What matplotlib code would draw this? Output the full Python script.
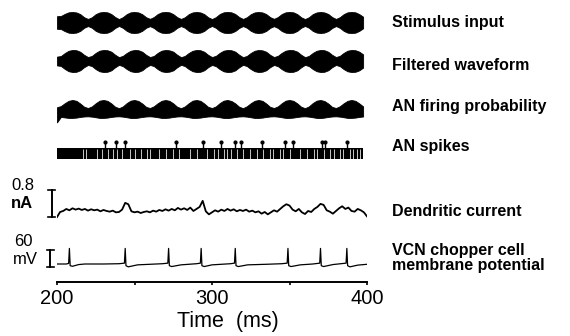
import numpy as np
import matplotlib
matplotlib.use("Agg")
import matplotlib.pyplot as plt

plt.rcParams['font.family'] = ['Liberation Sans', 'DejaVu Sans']

# ---------------- data ----------------
# envelope samples every 2.5 ms from 200 ms
stim_env = [
    0.60, 0.62, 0.82, 0.97, 1.00, 0.96, 0.80, 0.50,
    0.34, 0.50, 0.80, 0.96, 1.00, 0.97, 0.81, 0.52,
    0.33, 0.51, 0.80, 0.97, 1.00, 0.96, 0.79, 0.50,
    0.35, 0.52, 0.81, 0.97, 1.00, 0.97, 0.80, 0.51,
    0.34, 0.50, 0.80, 0.96, 1.00, 0.96, 0.80, 0.50,
    0.33, 0.51, 0.81, 0.97, 1.00, 0.97, 0.81, 0.52,
    0.34, 0.50, 0.79, 0.96, 1.00, 0.96, 0.80, 0.51,
    0.35, 0.52, 0.81, 0.97, 1.00, 0.97, 0.80, 0.50,
    0.33, 0.50, 0.80, 0.96, 1.00, 0.96, 0.81, 0.52,
    0.34, 0.51, 0.80, 0.97, 1.00, 0.97, 0.80, 0.55]

filt_env = [
    0.40, 0.45, 0.72, 0.93, 1.00, 0.98, 0.84, 0.56,
    0.36, 0.46, 0.74, 0.94, 1.00, 0.98, 0.85, 0.57,
    0.35, 0.47, 0.73, 0.93, 1.00, 0.98, 0.84, 0.56,
    0.36, 0.46, 0.74, 0.94, 1.00, 0.97, 0.85, 0.57,
    0.35, 0.46, 0.73, 0.93, 1.00, 0.98, 0.84, 0.56,
    0.36, 0.47, 0.74, 0.94, 1.00, 0.98, 0.85, 0.57,
    0.35, 0.46, 0.73, 0.93, 1.00, 0.97, 0.84, 0.56,
    0.36, 0.47, 0.74, 0.94, 1.00, 0.98, 0.85, 0.57,
    0.35, 0.46, 0.73, 0.93, 1.00, 0.98, 0.84, 0.56,
    0.36, 0.47, 0.74, 0.94, 1.00, 0.98, 0.85, 0.60]

an_prob_top = [
    0.55, 0.62, 0.80, 0.95, 1.00, 0.95, 0.78, 0.58,
    0.50, 0.60, 0.80, 0.96, 1.00, 0.95, 0.79, 0.58,
    0.49, 0.60, 0.81, 0.96, 1.00, 0.94, 0.78, 0.57,
    0.50, 0.61, 0.80, 0.95, 1.00, 0.95, 0.79, 0.58,
    0.49, 0.60, 0.80, 0.96, 1.00, 0.95, 0.78, 0.57,
    0.50, 0.60, 0.81, 0.96, 1.00, 0.94, 0.79, 0.58,
    0.49, 0.61, 0.80, 0.95, 1.00, 0.95, 0.78, 0.57,
    0.50, 0.60, 0.80, 0.96, 1.00, 0.95, 0.79, 0.58,
    0.49, 0.60, 0.81, 0.96, 1.00, 0.94, 0.78, 0.57,
    0.50, 0.61, 0.80, 0.95, 1.00, 0.95, 0.79, 0.60]

an_prob_bottom = [
    -0.40, -0.06, -0.09, -0.12, -0.12, -0.10, -0.06, -0.03,
    -0.02, -0.04, -0.08, -0.12, -0.12, -0.10, -0.06, -0.03,
    -0.02, -0.04, -0.08, -0.12, -0.13, -0.10, -0.06, -0.03,
    -0.02, -0.04, -0.08, -0.12, -0.12, -0.10, -0.06, -0.03,
    -0.02, -0.04, -0.08, -0.12, -0.12, -0.10, -0.06, -0.03,
    -0.02, -0.04, -0.08, -0.12, -0.13, -0.10, -0.06, -0.03,
    -0.02, -0.04, -0.08, -0.12, -0.12, -0.10, -0.06, -0.03,
    -0.02, -0.04, -0.08, -0.12, -0.12, -0.10, -0.06, -0.03,
    -0.02, -0.04, -0.08, -0.12, -0.13, -0.10, -0.06, -0.03,
    -0.02, -0.04, -0.08, -0.12, -0.12, -0.10, -0.06, -0.03]

# AN spikes: gaps in the dense raster band, and the tall spikes (ms)
an_gap_times = [217, 219, 226, 229, 233, 236, 238.5, 242, 247, 250, 254.5,
                258, 260, 265.5, 270, 275, 278.5, 286, 290, 296.5, 301,
                304, 307.5, 309.5, 312.5, 316, 320, 324.5, 329, 333, 337.5,
                339.5, 344, 346, 350.5, 357, 361, 365.5, 367.5, 372, 376,
                378.5, 382.5, 384.5, 389, 391, 393.5, 395.5]
an_spike_times = [231, 238, 244, 277, 294, 306, 315, 319, 332, 347, 352,
                  371, 373, 387]

# dendritic current (nA), every 2 ms from 200 to 400
dend_na = [
    -0.12, 0.03, 0.06, 0.12, 0.08, 0.14, 0.10, 0.13, 0.09, 0.12,
    0.07, 0.11, 0.08, 0.10, 0.05, 0.09, 0.06, 0.04, 0.07, 0.02,
    0.03, 0.10, 0.30, 0.26, 0.05, 0.02, 0.04, 0.00, 0.03, 0.05,
    0.02, 0.07, 0.04, 0.09, 0.06, 0.11, 0.07, 0.12, 0.08, 0.15,
    0.10, 0.14, 0.09, 0.16, 0.06, 0.12, 0.18, 0.36, 0.05, -0.04,
    0.02, 0.08, 0.04, 0.10, 0.06, 0.12, 0.07, 0.11, 0.05, 0.09,
    0.06, 0.10, 0.04, 0.07, 0.02, 0.05, -0.02, 0.03, -0.04, 0.02,
    0.08, 0.04, 0.12, 0.20, 0.26, 0.22, 0.10, 0.05, 0.12, 0.02,
    -0.03, 0.06, 0.03, 0.12, 0.18, 0.27, 0.24, 0.08, 0.04, -0.02,
    0.06, 0.14, 0.20, 0.12, 0.16, 0.06, 0.04, 0.12, 0.08, 0.02,
    -0.10]

# VCN chopper membrane potential (ms, mV)
vm_t = [200, 206, 207.5, 208, 208.5, 210, 214, 218, 230, 240,
        243.5, 244, 244.5, 246, 252, 260, 268,
        271.5, 272, 272.5, 274, 280, 290,
        292.5, 293, 293.5, 295, 300, 306, 312,
        314.5, 315, 315.5, 317, 323, 335, 345,
        348.5, 349, 349.5, 351, 357, 365,
        369.5, 370, 370.5, 372, 378,
        386.5, 387, 387.5, 389, 394, 400]
vm_mv = [-60, -60, -58, -5, -66, -68, -62, -60, -60, -59,
         -57, -5, -66, -70, -63, -61, -59,
         -57, -5, -66, -69, -63, -59,
         -57, -5, -66, -69, -63, -61, -59,
         -57, -5, -66, -69, -63, -61, -59,
         -57, -5, -66, -69, -63, -60,
         -57, -5, -66, -69, -62,
         -57, -5, -66, -70, -64, -61]

xticks = [200, 250, 300, 350, 400]
xticklabels = ['200', '', '300', '', '400']

row_labels = ['Stimulus input', 'Filtered waveform', 'AN firing probability',
              'AN spikes', 'Dendritic current',
              'VCN chopper cell\nmembrane potential']

# ---------------- layout ----------------
W, H = 570, 336
fig = plt.figure(figsize=(W / 100, H / 100), dpi=100)
X0, X1 = 57, 367


def row_axes(yc, ppu, base=0.0, h=60):
    ax = fig.add_axes([X0 / W, (H - yc - h / 2) / H, (X1 - X0) / W, h / H])
    half = h / 2 / ppu
    ax.set_ylim(base - half, base + half)
    ax.set_xlim(200, 400)
    ax.axis('off')
    ax.patch.set_alpha(0)
    return ax


t_env = np.arange(200, 400, 2.5)

# stimulus
ax = row_axes(22.5, 10.5)
ax.fill_between(t_env, -np.array(stim_env), np.array(stim_env), color='black', lw=0.6)

# filtered
ax = row_axes(61, 11)
ax.fill_between(t_env, -np.array(filt_env), np.array(filt_env), color='black', lw=0.6)

# AN firing probability
ax = row_axes(116, 16)
ax.fill_between(t_env, np.array(an_prob_bottom), np.array(an_prob_top), color='black', lw=0.6)

# AN spikes
ax = row_axes(153.5, 1.0)
ax.fill_between([200, 397.5], [-5.5, -5.5], [5.5, 5.5], color='black', lw=0)
ax.vlines(an_gap_times, -5.0, 5.0, color='white', lw=0.55)
ax.vlines(an_spike_times, 4, 12, color='black', lw=1.0)
ax.plot(an_spike_times, [11.3] * len(an_spike_times), 'o', color='black', ms=2.0)

# dendritic current
ppu_d = 27 / 0.8
ax = row_axes(213, ppu_d)
t_d = np.linspace(200, 400, len(dend_na))
ax.plot(t_d, dend_na, color='black', lw=1.3)
ax.plot([196.8, 196.8], [-0.12, 0.68], color='black', lw=1.4, clip_on=False)
ax.plot([194.5, 199], [0.68, 0.68], color='black', lw=1.2, clip_on=False)
ax.plot([194.5, 199], [-0.12, -0.12], color='black', lw=1.2, clip_on=False)

# membrane potential
ppu_v = 17 / 60
ax = row_axes(264, ppu_v, base=-60)
ax.plot(vm_t, vm_mv, color='black', lw=0.9)
ax.plot([195.5, 195.5], [-10.5, -70.5], color='black', lw=1.4, clip_on=False)
ax.plot([193.5, 198], [-10.5, -10.5], color='black', lw=1.2, clip_on=False)
ax.plot([193.5, 198], [-70.5, -70.5], color='black', lw=1.2, clip_on=False)

# scale bar labels
fig.text(11 / W, 1 - 186 / H, '0.8', fontsize=12, va='center', ha='left')
fig.text(11 / W, 1 - 203 / H, 'nA', fontsize=12, fontweight='bold', va='center', ha='left')
fig.text(14 / W, 1 - 241 / H, '60', fontsize=12, va='center', ha='left')
fig.text(13 / W, 1 - 259 / H, 'mV', fontsize=12, va='center', ha='left')

# time axis
axt = fig.add_axes([X0 / W, (H - 282) / H, (X1 - X0) / W, 0.01])
axt.set_xlim(200, 400)
axt.set_ylim(0, 1)
axt.patch.set_alpha(0)
for s in ['top', 'left', 'right']:
    axt.spines[s].set_visible(False)
axt.spines['bottom'].set_linewidth(1.4)
axt.set_yticks([])
axt.set_xticks(xticks)
axt.set_xticklabels(xticklabels)
axt.tick_params(axis='x', direction='out', length=2.5, width=1.2, pad=2.5, labelsize=14.5)
fig.text(228 / W, 1 - 321 / H, 'Time  (ms)', fontsize=15.5, ha='center', va='center')

# row labels
label_y = [23, 65, 107, 147, 212, 258]
for lab, yy in zip(row_labels, label_y):
    fig.text(392 / W, 1 - yy / H, lab, fontsize=11.5, fontweight='bold',
             ha='left', va='center', linespacing=1.0)

fig.savefig('out.png', dpi=100)
